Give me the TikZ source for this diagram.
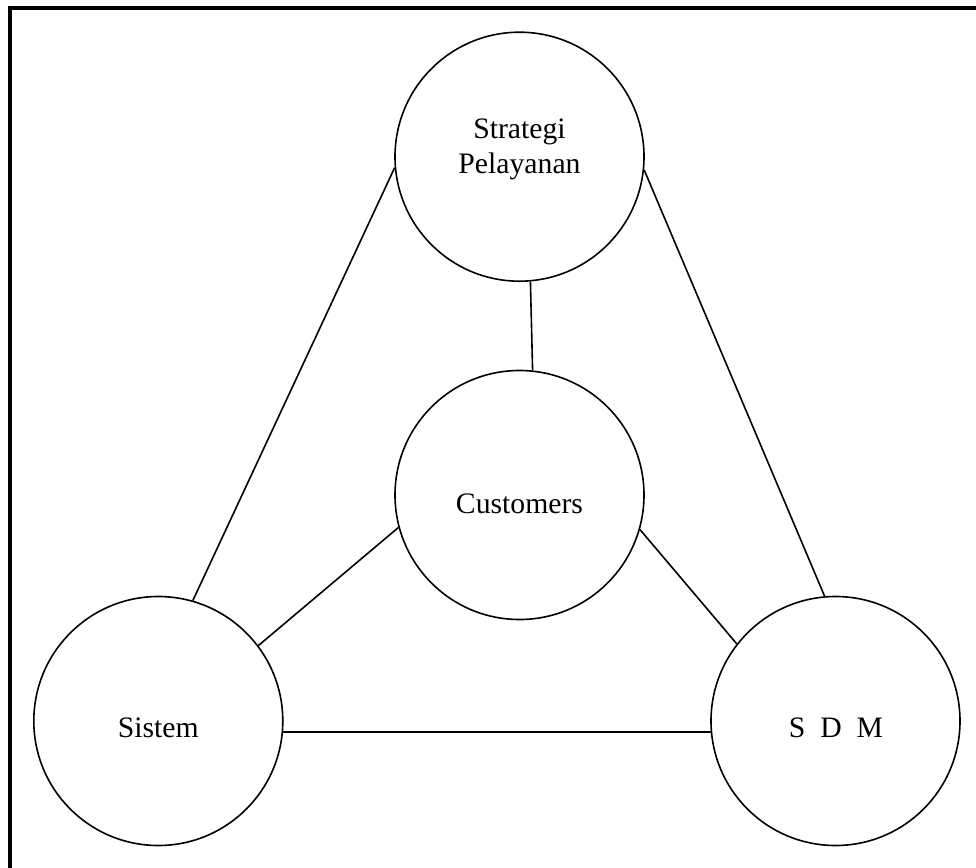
\documentclass[tikz,border=0pt]{standalone}
\usepackage{fontspec}
\setmainfont{Liberation Serif}
\begin{document}
\begin{tikzpicture}[x=1pt,y=-1pt,
  circ/.style={draw, circle, minimum size=249pt, inner sep=0pt, line width=1.6pt},
  lbl/.style={anchor=base, inner sep=0pt, font=\fontsize{29.7}{35}\selectfont},
  link/.style={line width=1.6pt}]
\useasboundingbox (0,0) rectangle (976,867);
% outer frame (right and bottom sides run off the page)
\draw[line width=3.6pt] (10,8) rectangle (1000,900);

% the four circles
\node[circ] (strat) at (519.5,156.7) {};
\node[circ] (cust)  at (519.5,495)   {};
\node[circ] (sis)   at (158.3,721)   {};
\node[circ] (sdm)   at (835.5,721)   {};

% labels
\node[lbl] (tstrat1) at (519.5,138) {Strategi};
\node[lbl] (tstrat2) at (519.5,173) {Pelayanan};
\node[lbl] (tcust)   at (519.5,513) {Customers};
\node[lbl] (tsis)    at (158.3,737.7) {Sistem};
\node[lbl] (tsdm)    at (836,737.7) {S\ \ D\ \ M};

% connectors
\draw[link] (strat.275.3) -- (cust.84.7);
\draw[link] (strat.185.3) -- (sis.74.8);
\draw[link] (strat.354.7) -- (sdm.95.3);
\draw[link] (cust.195.8) -- (sis.37.9);
\draw[link] (cust.344.5) -- (sdm.142.1);
\draw[link] (sis.-5.4) -- (sdm.185.4);
\end{tikzpicture}
\end{document}
